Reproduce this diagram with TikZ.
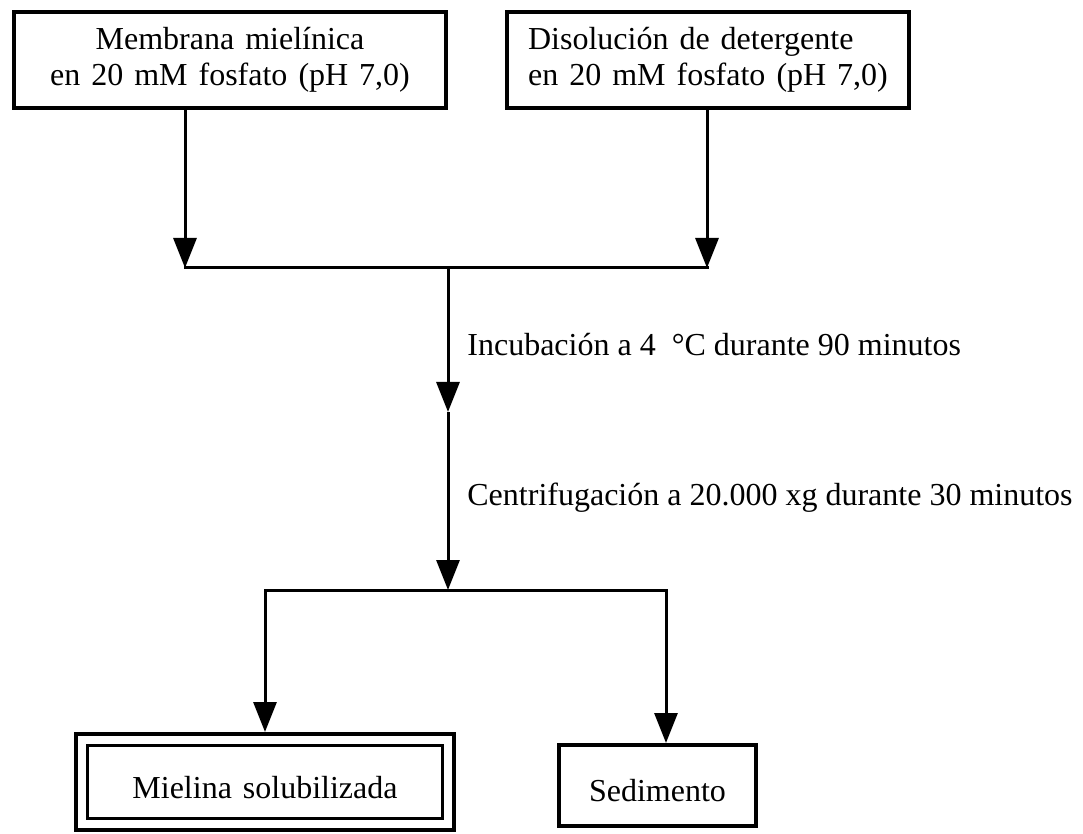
\documentclass[tikz,border=0pt]{standalone}
\usepackage{fontspec}
\setmainfont{Liberation Serif}
\usetikzlibrary{arrows.meta}
\newcommand\letracaja{\fontsize{16}{18}\selectfont\spaceskip=5.5pt plus 1pt\relax}
\begin{document}
\begin{tikzpicture}[x=0.5pt,y=-0.5pt,
	caja/.style={draw,line width=1.8pt,inner sep=0pt,font=\letracaja},
	cajabaja/.style={caja,text height=16pt,text depth=0pt},
	cajadoble/.style={cajabaja,double,double distance=4pt,outer sep=3.8pt},
	flecha/.style={line width=1.5pt,-{Triangle[length=15pt,width=11.5pt]}},
	linea/.style={line width=1.5pt,line cap=rect},
	paso/.style={anchor=base west,inner sep=0pt,font=\fontsize{16}{18}\selectfont}]
					\useasboundingbox (0,0) rectangle (1083,834);
					\node[caja,align=center,minimum width=216pt,minimum height=48pt] (membrana) at (230,60) {Membrana mielínica\\en 20 mM fosfato (pH 7,0)};
					\node[caja,align=left,minimum width=201pt,minimum height=48pt] (disolucion) at (708,60) {Disolución de detergente\\ en 20 mM fosfato (pH 7,0)};
					\node[cajadoble,minimum width=183.4pt,minimum height=42.4pt] (mielina) at (265,782) {Mielina solubilizada};
					\node[cajabaja,minimum width=98.7pt,minimum height=40.7pt] (sedimento) at (657.5,785.5) {Sedimento};
					\coordinate (unionizq) at (185,268);
					\coordinate (unionder) at (707,268);
					\coordinate (unionmed) at (448,268);
					\coordinate (incub) at (448,412);
					\coordinate (reparto) at (448,590);
					\coordinate (repartoizq) at (265,590);
					\coordinate (repartoder) at (666,590);
					\draw[flecha] (membrana.south -| unionizq) to (unionizq);
					\draw[flecha] (disolucion.south -| unionder) to (unionder);
					\draw[linea] (unionizq) to (unionder);
					\draw[flecha] (unionmed) to (incub);
					\draw[flecha] (incub) to (reparto);
					\draw[linea] (repartoizq) to (repartoder);
					\draw[flecha] (repartoizq) to (mielina.north);
					\draw[flecha] (repartoder) to (sedimento.north -| repartoder);
					\node[paso] (incubacion) at (467,356) {Incubación a 4\ \ °C durante 90 minutos};
					\node[paso] (centrifugacion) at (467,506) {Centrifugación a 20.000 xg durante 30 minutos};
				\end{tikzpicture}
\end{document}
